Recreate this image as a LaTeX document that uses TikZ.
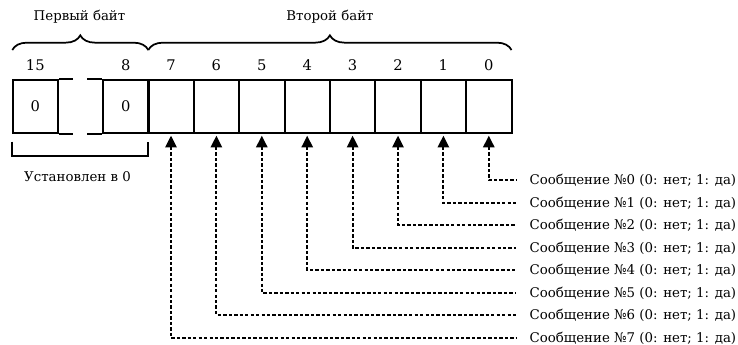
\documentclass[tikz,border=0pt]{standalone}
\usepackage{fontspec}
\setmainfont{DejaVu Serif}
\usetikzlibrary{positioning, arrows.meta, decorations.pathreplacing}

\begin{document}
\begin{tikzpicture}[
      x=0.75pt, y=0.75pt,
      every node/.style={font=\fontsize{10}{12}\selectfont},
      cell/.style={draw, line width=1.5pt, minimum width=34.05pt, minimum height=39.5pt,
                   inner sep=0pt, font=\fontsize{11}{13}\selectfont},
      bitnum/.style={inner sep=1pt, font=\fontsize{11}{13}\selectfont},
      frame/.style={line width=1.5pt},
      bytebrace/.style={decorate, decoration={brace, amplitude=11pt}, line width=1.3pt},
      msg/.style={anchor=west, inner sep=2pt},
      sigline/.style={line width=1.4pt, dash pattern=on 2.5pt off 1.6pt,
                      >={Triangle[width=8.5pt,length=8.8pt]}, <-}
    ]
      \useasboundingbox (0,0) rectangle (738,-345);
      % first byte
      \node[cell] (b15) at (35.3,-106.35) {0};
      \node[cell] (b8) at (125.8,-106.35) {0};
      \draw[frame] (b15.north east) -- ++(14,0);
      \draw[frame] (b15.south east) -- ++(14,0);
      \draw[frame] (b8.north west) -- ++(-15,0);
      \draw[frame] (b8.south west) -- ++(-15,0);
      % second byte
      \foreach \i in {0,...,7}
        \node[cell] (c\i) at ({171+45.4*(7-\i)},-106.35) {};
      % bit numbers
      \node[bitnum, above=5pt of b15] (n15) {15};
      \node[bitnum, above=5pt of b8] (n8) {8};
      \foreach \i in {0,...,7}
        \node[bitnum, above=5pt of c\i] (n\i) {\i};
      % braces
      \draw[bytebrace] (12.3,-50) -- (148.3,-50);
      \draw[bytebrace] (148.3,-50) -- (511.5,-50);
      \node (byte1) at (79.5,-17) {Первый байт};
      \node (byte2) at (330,-17) {Второй байт};
      \draw[frame] (12.3,-141.7) |- (148.3,-156) -- (148.3,-141.7);
      \node (zero) at (77.5,-176.7) {Установлен в 0};
      % messages
      \foreach \i in {0,...,7} {
        \node[msg] (m\i) at (526.7,{-180-round(22.5*\i)}) {Сообщение №\i{} (0: нет; 1: да)};
        \draw[sigline] ([yshift=-1.5pt]c\i.south) |- ([xshift=-8pt]m\i.west);
      }
  \end{tikzpicture}
\end{document}
